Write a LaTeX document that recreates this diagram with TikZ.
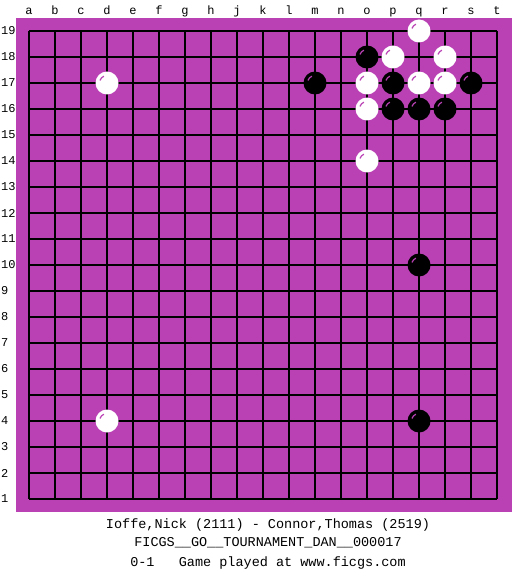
\documentclass[tikz,border=0pt]{standalone}
\usepackage{fontspec}
\setmonofont{Liberation Mono}
\usetikzlibrary{positioning}
\definecolor{boardpurple}{RGB}{185,65,180}
\tikzset{
  gridline/.style={black, line width=1.15pt},
  whitestone/.style={fill=white},
  blackstone/.style={fill=black},
  shine/.style={boardpurple, line width=1.2pt},
  coordlabel/.style={inner sep=0pt, font=\ttfamily\fontsize{12}{12}\selectfont},
  captionline/.style={inner sep=0pt, font=\ttfamily\fontsize{13.5}{13.5}\selectfont}
}

\begin{document}
\begin{tikzpicture}[x=1pt,y=-1pt]
                \useasboundingbox (0,0) rectangle (525,575);
                \fill[boardpurple] (16,18) rectangle (512,512);
                % board lines
                \foreach \i in {0,...,18} {
                    \draw[gridline] (29+26*\i,31) -- (29+26*\i,499);
                    \draw[gridline] (29,31+26*\i) -- (497,31+26*\i);
                }
                \foreach \l [count=\i from 0] in {a,b,c,d,e,f,g,h,j,k,l,m,n,o,p,q,r,s,t}
                    \node[coordlabel, anchor=base] (col-\l) at (29+26*\i,14.5) {\l};
                \foreach \n in {1,...,19}
                    \node[coordlabel, anchor=west] (row-\n) at (1,31+26*19-26*\n) {\n};
                % stones
                \foreach \c/\r in {15/19,14/18,16/18,3/17,13/17,15/17,16/17,13/16,13/14,3/4} {
                    \fill[whitestone] (29+26*\c,31+26*19-26*\r) circle (11.5);
                    \draw[shine] (29+26*\c,31+26*19-26*\r) ++(200:7.5) arc (200:245:7.5);
                }
                \foreach \c/\r in {13/18,11/17,14/17,17/17,14/16,15/16,16/16,15/10,15/4} {
                    \fill[blackstone] (29+26*\c,31+26*19-26*\r) circle (11.5);
                    \draw[shine] (29+26*\c,31+26*19-26*\r) ++(200:7.5) arc (200:245:7.5);
                }
                \node[captionline] (players) at (268,525) {Ioffe,Nick (2111) - Connor,Thomas (2519)};
                \node[captionline] (event) at (268,543) {FICGS\_\_GO\_\_TOURNAMENT\_DAN\_\_000017};
                \node[captionline] (result) at (268,563) {0-1\ \ \ Game played at www.ficgs.com};
\end{tikzpicture}
\end{document}
